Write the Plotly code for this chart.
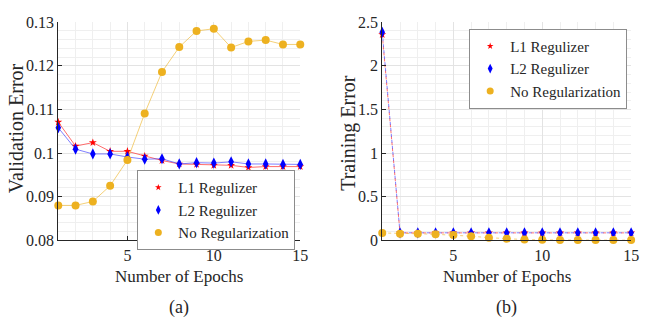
import plotly.graph_objects as go

epochs = list(range(1, 16))

# (a) validation error
val_l1 = [0.1071, 0.1016, 0.1024, 0.1004, 0.1004, 0.0993, 0.0983, 0.0975, 0.0974,
          0.0972, 0.0972, 0.0967, 0.0969, 0.0969, 0.0969]
val_l2 = [0.1058, 0.1009, 0.0998, 0.0998, 0.0991, 0.0986, 0.0987, 0.0975, 0.0978,
          0.0977, 0.0980, 0.0975, 0.0975, 0.0974, 0.0974]
val_none = [0.0880, 0.0880, 0.0889, 0.0925, 0.0984, 0.1091, 0.1186, 0.1243, 0.1280,
            0.1285, 0.1242, 0.1256, 0.1259, 0.1249, 0.1249]

# (b) training error
tr_l1 = [2.358, 0.085, 0.085, 0.085, 0.085, 0.085, 0.085, 0.085, 0.085,
         0.085, 0.085, 0.085, 0.085, 0.085, 0.085]
tr_l2 = [2.385, 0.086, 0.086, 0.086, 0.086, 0.086, 0.086, 0.086, 0.086,
         0.086, 0.086, 0.086, 0.086, 0.086, 0.086]
tr_none = [0.084, 0.076, 0.075, 0.069, 0.062, 0.047, 0.030, 0.018, 0.008,
           0.005, 0.002, 0.002, 0.002, 0.002, 0.002]

names = ["L1 Regulizer", "L2 Regulizer", "No Regularization"]
x_ticks = [5, 10, 15]
val_ticks = [0.08, 0.09, 0.1, 0.11, 0.12, 0.13]
val_ticktext = ["0.08", "0.09", "0.1", "0.11", "0.12", "0.13"]
tr_ticks = [0, 0.5, 1, 1.5, 2, 2.5]
tr_ticktext = ["0", "0.5", "1", "1.5", "2", "2.5"]

RED = "#FF0000"
BLUE = "#0000FF"
YEL = "#EDB120"
FONT = "Liberation Serif, DejaVu Serif, serif"
TXT = "#262626"

styles = [
    dict(color=RED, line="rgba(255,60,60,0.75)", symbol="star", size=6),
    dict(color=BLUE, line="rgba(60,60,255,0.65)", symbol="diamond-tall", size=8),
    dict(color=YEL, line="rgba(237,177,32,0.6)", symbol="circle", size=8),
]

fig = go.Figure()

def add_series(xax, yax, ys, dash, legend):
    for y, nm, st in zip(ys, names, styles):
        fig.add_trace(go.Scatter(
            x=epochs, y=y, xaxis=xax, yaxis=yax, mode="lines+markers",
            line=dict(color=st["line"], width=1, dash=dash),
            marker=dict(color=st["color"], symbol=st["symbol"], size=st["size"], line=dict(width=0)),
            showlegend=False, cliponaxis=False, name=nm))
    for nm, st in zip(names, styles):
        fig.add_trace(go.Scatter(
            x=[None], y=[None], xaxis=xax, yaxis=yax, mode="markers",
            marker=dict(color=st["color"], symbol=st["symbol"], size=st["size"] - 1, line=dict(width=0)),
            showlegend=True, legend=legend, name=nm))

add_series("x", "y", [val_l1, val_l2, val_none], "solid", "legend")
add_series("x2", "y2", [tr_l1, tr_l2, tr_none], "dot", "legend2")

W, H = 650, 328
def px(x):
    return x / W
def py(y):
    return 1 - y / H

axis_common = dict(
    showline=True, linecolor=TXT, linewidth=1, mirror=False,
    ticks="inside", ticklen=4, tickcolor=TXT,
    showgrid=True, gridcolor="#e3e3e3", gridwidth=1, zeroline=False,
    tickfont=dict(family=FONT, size=16, color=TXT),
)

legend_common = dict(
    xanchor="right", yanchor="top",
    bgcolor="white", bordercolor="#8c8c8c", borderwidth=1,
    font=dict(family=FONT, size=15, color=TXT),
    itemwidth=30, tracegroupgap=0,
)

fig.update_layout(
    width=W, height=H, margin=dict(l=0, r=0, t=0, b=0),
    paper_bgcolor="white", plot_bgcolor="white",
    font=dict(family=FONT, color=TXT),
    xaxis=dict(domain=[px(59), px(304)], range=[1, 15], tickvals=x_ticks, anchor="y",
               minor=dict(dtick=1, tick0=0, showgrid=True, gridcolor="#efefef", ticks=""),
               **axis_common),
    yaxis=dict(domain=[py(245), py(15)], range=[0.08, 0.13], tickvals=val_ticks,
               ticktext=val_ticktext, anchor="x",
               minor=dict(dtick=0.002, tick0=0.08, showgrid=True, gridcolor="#efefef", ticks=""),
               **axis_common),
    xaxis2=dict(domain=[px(387), px(639)], range=[1, 15], tickvals=x_ticks, anchor="y2",
                minor=dict(dtick=1, tick0=0, showgrid=True, gridcolor="#efefef", ticks=""),
                **axis_common),
    yaxis2=dict(domain=[py(245), py(15)], range=[0, 2.5], tickvals=tr_ticks,
                ticktext=tr_ticktext, anchor="x2",
                minor=dict(dtick=0.1, tick0=0, showgrid=True, gridcolor="#efefef", ticks=""),
                **axis_common),
    legend=dict(x=px(299), y=py(171), **legend_common),
    legend2=dict(x=px(635), y=py(22), **legend_common),
    showlegend=True,
)

def note(x, y, text, size, angle=0):
    fig.add_annotation(x=px(x), y=py(y), text=text, textangle=angle,
                       xref="paper", yref="paper", xanchor="center", yanchor="middle",
                       showarrow=False, font=dict(family=FONT, color=TXT, size=size))

note(181, 283, "Number of Epochs", 17)
note(513, 283, "Number of Epochs", 17)
note(17, 127, "Validation Error", 20, -90)
note(352, 132, "Training Error", 20, -90)
note(181, 316, "(a)", 18)
note(513, 316, "(b)", 18)

fig.write_html("out.html")
